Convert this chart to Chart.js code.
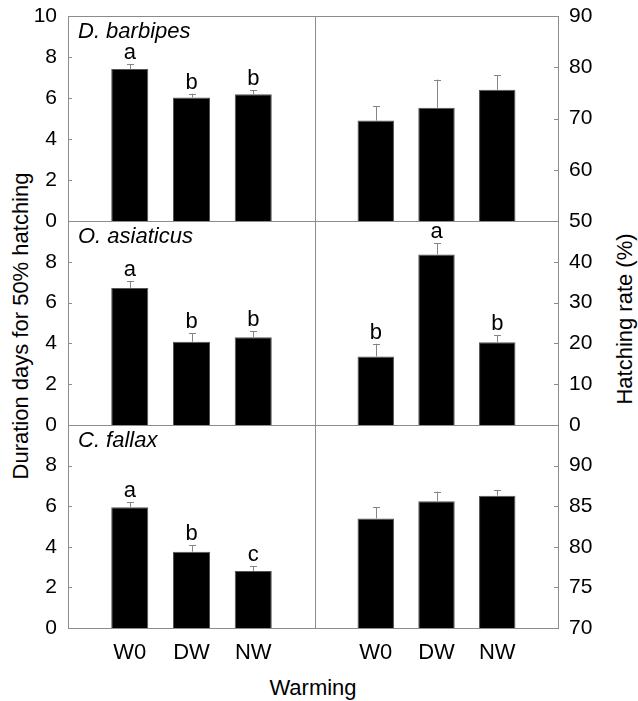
<!DOCTYPE html>
<html>
<head>
<meta charset="utf-8">
<script src="https://cdn.jsdelivr.net/npm/chart.js@4.4.1/dist/chart.umd.min.js"></script>
<style>
  body { margin: 0; background: #fff; }
  #wrap { position: relative; width: 638px; height: 701px; font-family: "Liberation Sans", Arial, sans-serif; }
  #wrap canvas { position: absolute; left: 0; top: 0; }
  .title { position: absolute; font-size: 22px; line-height: 1; color: #000; white-space: nowrap; transform: translate(-50%, -50%); }
  .rot { transform: translate(-50%, -50%) rotate(-90deg); }
</style>
</head>
<body>
<div id="wrap">
  <div class="title rot" style="left:21px; top:326px;">Duration days for 50% hatching</div>
  <div class="title rot" style="left:625px; top:319px;">Hatching rate (%)</div>
  <div class="title" style="left:313px; top:688px;">Warming</div>
</div>
<script>
// treatments on the x axis
var treatments = ['W0', 'DW', 'NW'];
var species = ['D. barbipes', 'O. asiaticus', 'C. fallax'];

// duration days for 50% hatching (left column)
var durBarbipes = [7.41, 6.03, 6.18];
var durBarbipesErr = [0.23, 0.18, 0.20];
var durAsiaticus = [6.72, 4.08, 4.30];
var durAsiaticusErr = [0.34, 0.43, 0.29];
var durFallax = [5.95, 3.76, 2.81];
var durFallaxErr = [0.25, 0.33, 0.24];

// hatching rate % (right column)
var rateBarbipes = [69.6, 72.1, 75.6];
var rateBarbipesErr = [2.8, 5.5, 2.8];
var rateAsiaticus = [16.8, 41.8, 20.3];
var rateAsiaticusErr = [3.1, 2.8, 1.7];
var rateFallax = [83.5, 85.6, 86.3];
var rateFallaxErr = [1.4, 1.2, 0.7];

// significance letters
var durBarbipesLetters = ['a', 'b', 'b'];
var durAsiaticusLetters = ['a', 'b', 'b'];
var durFallaxLetters = ['a', 'b', 'c'];
var rateAsiaticusLetters = ['b', 'a', 'b'];

// y ranges: [min, max, step]
var durRange = [0, 10, 2];
var rateRangeTop = [50, 90, 10];
var rateRangeMid = [0, 50, 10];
var rateRangeBot = [70, 95, 5];

var W = 638, H = 701;
var FONT = '"Liberation Sans", Arial, sans-serif';

// pad the category list so the three bars sit at 1/4, 2/4, 3/4 of the panel
function pad(arr) {
  return [null].concat(arr, [null]);
}

var decorPlugin = {
  id: 'decor',
  afterDatasetsDraw: function (chart) {
    var opts = chart.options.plugins.decor;
    var ctx = chart.ctx;
    var area = chart.chartArea;
    var y = chart.scales.y;
    var meta = chart.getDatasetMeta(0);
    var values = chart.data.datasets[0].data;

    ctx.save();
    // error bars (upper only)
    ctx.strokeStyle = '#858585';
    ctx.lineWidth = 1;
    meta.data.forEach(function (bar, i) {
      var err = opts.errors[i];
      if (values[i] == null || err == null) return;
      var x = Math.round(bar.x) + 0.5;
      var yTop = y.getPixelForValue(values[i] + err);
      ctx.beginPath();
      ctx.moveTo(x, bar.y);
      ctx.lineTo(x, yTop);
      ctx.moveTo(x - 3.5, Math.round(yTop) + 0.5);
      ctx.lineTo(x + 3.5, Math.round(yTop) + 0.5);
      ctx.stroke();
    });

    // letters
    if (opts.letters) {
      ctx.fillStyle = '#000';
      ctx.font = '22px ' + FONT;
      ctx.textAlign = 'center';
      ctx.textBaseline = 'alphabetic';
      meta.data.forEach(function (bar, i) {
        var t = opts.letters[i];
        if (!t) return;
        var yTop = y.getPixelForValue(values[i] + opts.errors[i]);
        ctx.fillText(t, bar.x, yTop - 5);
      });
    }

    // frame
    ctx.strokeStyle = '#8c8c8c';
    ctx.lineWidth = 1;
    ctx.strokeRect(Math.round(area.left) + 0.5, Math.round(area.top) + 0.5,
      Math.round(area.width), Math.round(area.height));

    // inward tick marks
    y.ticks.forEach(function (t) {
      var py = Math.round(y.getPixelForValue(t.value)) + 0.5;
      ctx.beginPath();
      if (opts.side === 'left') {
        ctx.moveTo(area.left, py);
        ctx.lineTo(area.left + 4, py);
      } else {
        ctx.moveTo(area.right, py);
        ctx.lineTo(area.right - 4, py);
      }
      ctx.stroke();
    });

    // species name
    if (opts.species) {
      ctx.fillStyle = '#000';
      ctx.font = 'italic 22px ' + FONT;
      ctx.textAlign = 'left';
      ctx.textBaseline = 'alphabetic';
      ctx.fillText(opts.species, area.left + 10, area.top + 22);
    }
    ctx.restore();
  }
};

function makePanel(p) {
  var canvas = document.createElement('canvas');
  canvas.width = W;
  canvas.height = H;
  document.getElementById('wrap').appendChild(canvas);

  var axisW = 50, xAxisH = 40;
  var padding = {
    top: p.top,
    bottom: H - p.bottom - (p.showX ? xAxisH : 0),
    left: p.side === 'left' ? p.left - axisW : p.left,
    right: p.side === 'left' ? W - p.right : W - p.right - axisW
  };

  new Chart(canvas.getContext('2d'), {
    type: 'bar',
    data: {
      labels: [''].concat(treatments, ['']),
      datasets: [{
        data: pad(p.values),
        backgroundColor: '#000',
        borderColor: '#555',
        borderWidth: 1,
        barPercentage: 0.6,
        categoryPercentage: 1.0
      }]
    },
    options: {
      responsive: false,
      animation: false,
      layout: { padding: padding },
      plugins: {
        legend: { display: false },
        tooltip: { enabled: false },
        decor: {
          errors: pad(p.errors),
          letters: p.letters ? pad(p.letters) : null,
          species: p.species,
          side: p.side
        }
      },
      scales: {
        x: {
          display: p.showX,
          offset: false,
          grid: { display: false, drawTicks: false },
          border: { display: false },
          ticks: { color: '#000', font: { size: 22, family: FONT }, padding: 12, maxRotation: 0, autoSkip: false },
          afterFit: function (s) {
            s.height = p.showX ? xAxisH : 0;
            s.paddingLeft = 0;
            s.paddingRight = 0;
          }
        },
        y: {
          position: p.side,
          min: p.range[0],
          max: p.range[1],
          grid: { display: false, drawTicks: false },
          border: { display: false },
          ticks: {
            stepSize: p.range[2],
            color: '#000',
            font: { size: 21, family: FONT },
            padding: 11,
            callback: function (v) {
              if (p.hideMax && v === p.range[1]) return '';
              return v;
            }
          },
          afterFit: function (s) {
            s.width = axisW;
            s.paddingTop = 0;
            s.paddingBottom = 0;
          }
        }
      }
    },
    plugins: [decorPlugin]
  });
}

var rows = [[16, 221], [221, 425], [425, 628]];

makePanel({ side: 'left', left: 68, right: 315, top: rows[0][0], bottom: rows[0][1], values: durBarbipes, errors: durBarbipesErr, letters: durBarbipesLetters, species: species[0], range: durRange, hideMax: false, showX: false });
makePanel({ side: 'left', left: 68, right: 315, top: rows[1][0], bottom: rows[1][1], values: durAsiaticus, errors: durAsiaticusErr, letters: durAsiaticusLetters, species: species[1], range: durRange, hideMax: true, showX: false });
makePanel({ side: 'left', left: 68, right: 315, top: rows[2][0], bottom: rows[2][1], values: durFallax, errors: durFallaxErr, letters: durFallaxLetters, species: species[2], range: durRange, hideMax: true, showX: true });

makePanel({ side: 'right', left: 315, right: 558, top: rows[0][0], bottom: rows[0][1], values: rateBarbipes, errors: rateBarbipesErr, letters: null, species: null, range: rateRangeTop, hideMax: false, showX: false });
makePanel({ side: 'right', left: 315, right: 558, top: rows[1][0], bottom: rows[1][1], values: rateAsiaticus, errors: rateAsiaticusErr, letters: rateAsiaticusLetters, species: null, range: rateRangeMid, hideMax: true, showX: false });
makePanel({ side: 'right', left: 315, right: 558, top: rows[2][0], bottom: rows[2][1], values: rateFallax, errors: rateFallaxErr, letters: null, species: null, range: rateRangeBot, hideMax: true, showX: true });
</script>
</body>
</html>
